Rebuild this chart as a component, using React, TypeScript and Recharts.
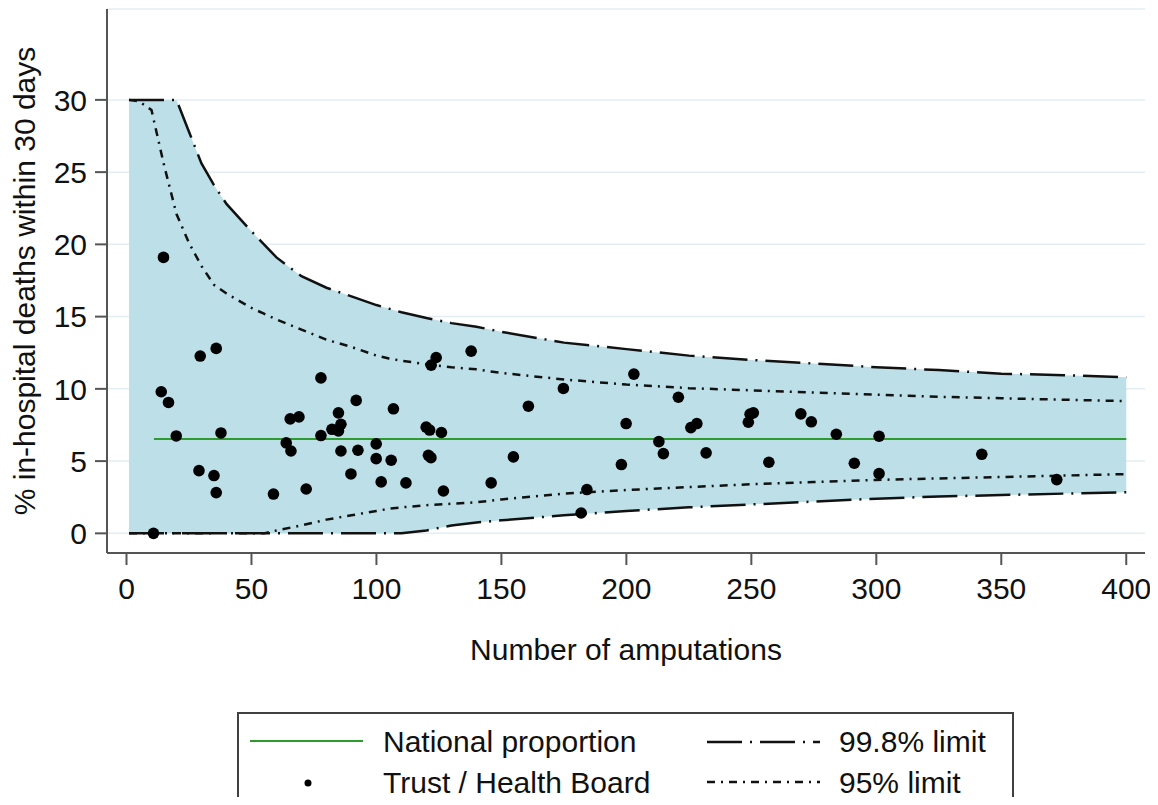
import { ComposedChart, Area, Line, Scatter, XAxis, YAxis, CartesianGrid } from "recharts";

// control limits at these numbers of amputations
const limitN = [1, 5, 10, 15, 20, 25, 30, 35, 40, 50, 55, 60, 70, 80, 90, 100, 105, 110, 120, 130, 140, 150, 175, 200, 225, 250, 275, 300, 325, 350, 375, 400];
const upper998 = [30, 30, 30, 30, 30, 27.8, 25.6, 24.1, 22.8, 20.9, 20.0, 19.1, 17.8, 17.0, 16.4, 15.8, 15.55, 15.3, 14.9, 14.55, 14.3, 13.95, 13.2, 12.75, 12.3, 12.0, 11.75, 11.5, 11.3, 11.05, 10.95, 10.8];
const upper95 = [30, 29.9, 29.3, 25.5, 22.1, 20.1, 18.5, 17.2, 16.6, 15.6, 15.2, 14.8, 14.1, 13.4, 12.9, 12.3, 12.1, 11.95, 11.7, 11.5, 11.35, 11.1, 10.65, 10.3, 10.05, 9.9, 9.75, 9.6, 9.45, 9.35, 9.25, 9.15];
const lower95 = [0, 0, 0, 0, 0, 0, 0, 0, 0, 0, 0, 0.2, 0.55, 0.95, 1.25, 1.55, 1.7, 1.8, 1.95, 2.05, 2.15, 2.35, 2.75, 3.0, 3.2, 3.4, 3.55, 3.7, 3.8, 3.9, 4.0, 4.1];
const lower998 = [0, 0, 0, 0, 0, 0, 0, 0, 0, 0, 0, 0, 0, 0, 0, 0, 0, 0, 0.2, 0.55, 0.75, 0.9, 1.25, 1.55, 1.8, 2.0, 2.2, 2.4, 2.55, 2.65, 2.75, 2.85];

// trusts / health boards
const trustN = [
	10.8, 13.9, 14.8, 16.8, 19.9, 29.5, 29.0, 35.9, 35.0, 35.9, 37.8, 58.8, 63.9, 65.8, 65.5, 69.0, 71.9, 77.8, 77.8, 82.2,
	84.8, 84.8, 85.8, 85.8, 89.8, 91.9, 92.6, 99.9, 99.9, 101.9, 105.9, 106.8, 111.8, 119.9, 121.3, 126.0, 120.8, 121.8, 123.9, 121.9,
	137.9, 126.8, 145.9, 154.8, 160.8, 174.8, 181.9, 184.2, 198.0, 199.9, 203.0, 213.0, 214.8, 220.8, 225.8, 228.2, 231.9, 248.8, 249.5, 250.8,
	257.0, 269.8, 274.0, 284.0, 291.2, 301.1, 301.1, 342.2, 372.2,
];
const trustPct = [
	0, 9.8, 19.1, 9.06, 6.74, 12.27, 4.34, 12.8, 4.0, 2.82, 6.95, 2.72, 6.26, 5.7, 7.92, 8.06, 3.07, 10.76, 6.77, 7.2,
	7.09, 8.34, 7.55, 5.7, 4.11, 9.2, 5.75, 6.19, 5.17, 3.56, 5.06, 8.62, 3.49, 7.35, 7.15, 6.98, 5.4, 5.24, 12.17, 11.64,
	12.61, 2.93, 3.49, 5.29, 8.8, 10.03, 1.41, 3.03, 4.76, 7.6, 11.02, 6.35, 5.52, 9.42, 7.32, 7.6, 5.57, 7.69, 8.25, 8.34,
	4.92, 8.27, 7.72, 6.86, 4.85, 6.72, 4.14, 5.47, 3.72,
];

const nationalN = [11, 400];
const nationalPct = 6.53;

const xTicks = [0, 50, 100, 150, 200, 250, 300, 350, 400];
const yTicks = [0, 5, 10, 15, 20, 25, 30];

const limits = limitN.map((n, i) => ({
	x: n,
	lo998: lower998[i],
	hi998: upper998[i],
	lo95: lower95[i],
	hi95: upper95[i],
}));
const trusts = trustN.map((n, i) => ({ x: n, y: trustPct[i] }));
const national = nationalN.map((n) => ({ x: n, v: nationalPct }));

const axisStroke = { stroke: "#555", strokeWidth: 2 };
const textColor = "#111";
const dash998 = "35 8 2 8";
const dash95 = "8 6 2 6";

const App = () => {
	return (
		<div style={{ position: "relative", width: 1142, height: 789, fontFamily: "'Liberation Sans', Arial, sans-serif" }}>
			<ComposedChart width={1142} height={700} data={limits} margin={{ top: 1, right: 5, bottom: 0, left: 0 }}>
				<CartesianGrid vertical={false} stroke="#e4eef2" strokeWidth={1.5} />
				<XAxis
					dataKey="x"
					type="number"
					domain={[-7.8, 407.5]}
					ticks={xTicks}
					allowDataOverflow
					height={155}
					tickSize={12}
					tickMargin={13}
					axisLine={axisStroke}
					tickLine={axisStroke}
					tick={{ fontSize: 30, fill: textColor }}
					label={{ value: "Number of amputations", position: "insideBottom", offset: 48, fontSize: 30, fill: textColor }}
				/>
				<YAxis
					type="number"
					domain={[-1.36, 36.29]}
					ticks={yTicks}
					allowDataOverflow
					width={99}
					tickSize={12}
					tickMargin={8}
					axisLine={axisStroke}
					tickLine={axisStroke}
					tick={{ fontSize: 30, fill: textColor }}
					label={{
						value: "% in-hospital deaths within 30 days",
						angle: -90,
						position: "insideLeft",
						offset: 16,
						fontSize: 30,
						fill: textColor,
						style: { textAnchor: "middle" },
					}}
				/>
				<Area
					dataKey={(d) => [d.lo998, d.hi998]}
					type="linear"
					fill="#bddfe8"
					fillOpacity={1}
					stroke="none"
					isAnimationActive={false}
				/>
				<Line data={national} dataKey="v" type="linear" stroke="#2e9b2e" strokeWidth={2} dot={false} activeDot={false} isAnimationActive={false} />
				<Line dataKey="hi998" type="linear" stroke="#111" strokeWidth={2.5} strokeDasharray={dash998} dot={false} activeDot={false} isAnimationActive={false} />
				<Line dataKey="lo998" type="linear" stroke="#111" strokeWidth={2.5} strokeDasharray={dash998} dot={false} activeDot={false} isAnimationActive={false} />
				<Line dataKey="hi95" type="linear" stroke="#111" strokeWidth={2.5} strokeDasharray={dash95} dot={false} activeDot={false} isAnimationActive={false} />
				<Line dataKey="lo95" type="linear" stroke="#111" strokeWidth={2.5} strokeDasharray={dash95} dot={false} activeDot={false} isAnimationActive={false} />
				<Scatter
					data={trusts}
					dataKey="y"
					fill="#000"
					shape={(p: any) => <circle cx={p.cx} cy={p.cy} r={5.8} fill="#000" />}
					isAnimationActive={false}
				/>
			</ComposedChart>
			<svg width={1142} height={100} style={{ position: "absolute", left: 0, top: 697 }}>
				<path d="M230,100 V8 H1005 V100" fill="none" stroke="#404040" strokeWidth={2} />
				<line x1={242} y1={36} x2={355} y2={36} stroke="#2e9b2e" strokeWidth={2} />
				<text x={375} y={47} fontSize={30} fill={textColor}>National proportion</text>
				<circle cx={300} cy={78} r={3.5} fill="#000" />
				<text x={375} y={88} fontSize={30} fill={textColor}>Trust / Health Board</text>
				<line x1={699} y1={37} x2={812} y2={37} stroke="#111" strokeWidth={2.5} strokeDasharray={dash998} />
				<text x={831} y={47} fontSize={30} fill={textColor}>99.8% limit</text>
				<line x1={699} y1={77} x2={812} y2={77} stroke="#111" strokeWidth={2.5} strokeDasharray={dash95} />
				<text x={831} y={88} fontSize={30} fill={textColor}>95% limit</text>
			</svg>
		</div>
	);
};

export default App;
